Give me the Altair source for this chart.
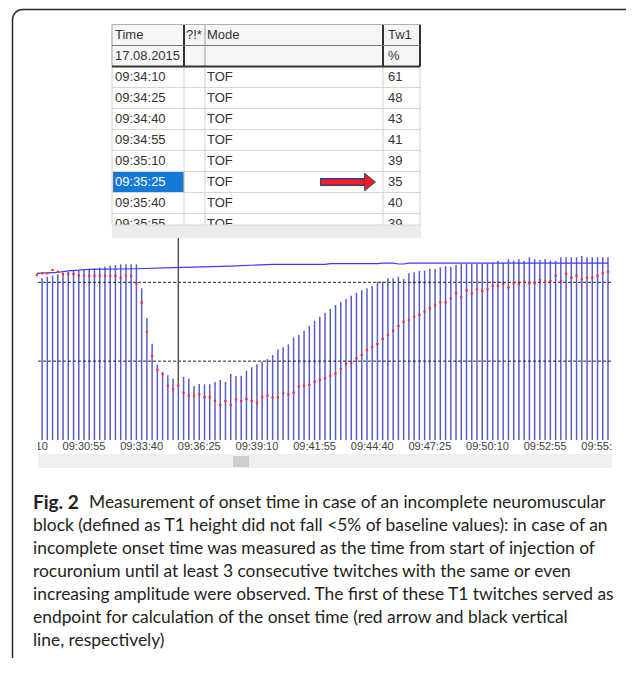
import altair as alt
import pandas as pd


def secs(hms):
    h, m, s = (int(p) for p in hms.split(":"))
    return h * 3600 + m * 60 + s


# ---------------- table (list view of the monitor) ----------------
table_header = ["Time", "?!*", "Mode", "Tw1"]
table_subheader = ["17.08.2015", "", "", "%"]
table_times = ["09:34:10", "09:34:25", "09:34:40", "09:34:55",
               "09:35:10", "09:35:25", "09:35:40", "09:35:55"]
table_modes = ["TOF", "TOF", "TOF", "TOF", "TOF", "TOF", "TOF", "TOF"]
table_tw1 = [61, 48, 43, 41, 39, 35, 40, 39]
onset_time = "09:35:25"
onset_value = 35

# ---------------- trend chart ----------------
axis_labels = ["09:28:10", "09:30:55", "09:33:40", "09:36:25", "09:39:10", "09:41:55",
               "09:44:40", "09:47:25", "09:50:10", "09:52:55", "09:55:40"]
sample_step_s = 15
bar_first_time = "09:28:55"
# T1 twitch height (%), one bar every 15 s
t1_bars = [
    102.6, 103.6, 104.2, 105.1, 106.1, 106.7, 107.2, 107.4, 107.8, 108.4,
    108.9, 109.3, 109.9, 110.5, 111.0, 111.4, 111.4, 111.4, 111.4, 96.2,
    77.2, 61.0, 48.0, 43.0, 41.0, 39.0, 35.0, 40.0, 39.0, 34.2,
    35.5, 35.3, 35.3, 36.8, 38.0, 36.8, 41.9, 40.6, 40.8, 43.9,
    46.1, 48.0, 49.7, 51.4, 53.9, 57.5, 58.8, 60.7, 65.1, 66.6,
    69.3, 72.3, 75.5, 78.2, 80.7, 83.1, 85.6, 87.7, 89.4, 91.5,
    93.4, 95.1, 96.2, 97.7, 100.4, 100.4, 102.5, 102.5, 103.6, 102.1,
    105.7, 106.3, 107.2, 107.4, 108.4, 108.4, 109.5, 110.3, 109.9, 111.0,
    111.6, 111.6, 111.6, 111.6, 111.6, 112.0, 112.4, 113.5, 112.4, 114.6,
    113.7, 114.6, 113.5, 115.9, 114.6, 114.1, 114.8, 113.7, 113.5, 115.9,
    115.9, 115.9, 115.9, 116.7, 115.9, 115.9, 115.9, 115.9, 115.9,
]
dot_first_time = "09:28:40"
# TOF ratio (%), red dots
tof_dots = [
    104.6, 105.7, 105.7, 107.8, 106.7, 105.3, 105.3, 105.3, 104.2, 104.2,
    104.2, 104.2, 104.2, 104.2, 104.2, 104.2, 102.9, 104.2, 104.2, 99.4,
    87.1, 68.7, 53.3, 44.4, 41.9, 34.4, 32.1, 34.4, 30.0, 28.1,
    28.1, 29.0, 27.1, 27.1, 24.7, 22.2, 24.7, 22.2, 25.8, 24.7,
    26.0, 24.7, 23.7, 27.1, 28.1, 27.1, 27.1, 29.6, 29.0, 30.0,
    33.8, 34.4, 35.0, 37.0, 38.0, 39.1, 40.6, 41.9, 45.0, 48.2,
    49.0, 51.8, 53.9, 57.1, 58.8, 60.9, 64.0, 66.6, 69.3, 72.3,
    75.0, 76.1, 78.2, 79.3, 81.4, 83.5, 85.4, 87.3, 87.3, 89.8,
    93.0, 90.5, 94.7, 93.0, 95.5, 94.5, 95.5, 97.8, 97.8, 98.9,
    96.8, 99.4, 98.9, 100.4, 99.4, 99.4, 101.5, 100.4, 100.8, 104.2,
    100.8, 105.3, 102.9, 104.2, 101.9, 102.9, 102.9, 104.2, 105.7, 106.7,
]
# blue reference trace
ref_times = ["09:28:40", "09:29:40", "09:30:10", "09:31:10", "09:33:25", "09:35:10",
             "09:37:55", "09:39:55", "09:42:25", "09:42:40", "09:44:55", "09:45:10",
             "09:45:40", "09:45:55", "09:46:10", "09:46:25", "09:55:55"]
ref_values = [105.7, 106.3, 107.2, 108.2, 108.6, 109.3, 110.3, 111.4, 111.4, 111.8,
              111.8, 112.2, 112.2, 111.6, 111.6, 112.2, 112.2]
reference_levels = [50, 100]

# ---------------- caption ----------------
caption_bold = "Fig. 2"
caption_first = "Measurement of onset time in case of an incomplete neuromuscular"
caption_lines = [
    "block (defined as T1 height did not fall <5% of baseline values): in case of an",
    "incomplete onset time was measured as the time from start of injection of",
    "rocuronium until at least 3 consecutive twitches with the same or even",
    "increasing amplitude were observed. The first of these T1 twitches served as",
    "endpoint for calculation of the onset time (red arrow and black vertical",
    "line, respectively)",
]

# ================= build data frames =================
b0 = secs(bar_first_time)
bars_df = pd.DataFrame({"t": [b0 + sample_step_s * i for i in range(len(t1_bars))],
                        "v": t1_bars, "base": 0})
d0 = secs(dot_first_time)
dots_df = pd.DataFrame({"t": [d0 + sample_step_s * i for i in range(len(tof_dots))],
                        "v": tof_dots})
ref_df = pd.DataFrame({"t": [secs(s) for s in ref_times], "v": ref_values})
lvl_df = pd.DataFrame({"v": reference_levels})
onset_df = pd.DataFrame({"t": [secs(onset_time)], "v": [onset_value]})
lab_df = pd.DataFrame({"t": [secs(s) for s in axis_labels], "label": axis_labels})

W, H = 618, 650
xs = alt.Scale(domain=[34120, 35770], range=[28.84, 605.24], nice=False, zero=False)
ys = alt.Scale(domain=[0, 120], range=[432, 242.76], nice=False, zero=False)
rs = alt.Scale(domain=[-2, 7], range=[27, 216], nice=False, zero=False)
cs = alt.Scale(domain=[0, 6], range=[495, 633], nice=False, zero=False)

one = pd.DataFrame({"_": [0]})
FONT = "Liberation Sans"


def rect(x, x2, y, y2, fill, stroke=None, sw=0, dash=None):
    kw = dict(fill=fill)
    if stroke:
        kw.update(stroke=stroke, strokeWidth=sw)
    if dash:
        kw.update(strokeDash=dash)
    return alt.Chart(one).mark_rect(**kw).encode(
        x=alt.value(x), x2=alt.value(x2), y=alt.value(y), y2=alt.value(y2))


def rule(x, x2, y, y2, color, w):
    return alt.Chart(one).mark_rule(color=color, strokeWidth=w).encode(
        x=alt.value(x), x2=alt.value(x2), y=alt.value(y), y2=alt.value(y2))


layers = []

# ---------- table ----------
TL, TR = 104, 412
layers.append(rect(TL, TR, 16.5, 58.5, "#f6f6f6"))
layers.append(rect(TL, TR, 58.5, 217, "#ffffff"))
hl_row = table_times.index(onset_time)
# highlighted cell
row_df = pd.DataFrame({"r": [hl_row - 0.5], "r2": [hl_row + 0.5]})
layers.append(alt.Chart(row_df).mark_rect(fill="#1479d6", stroke="#d9822b", strokeWidth=1,
                                          strokeDash=[1, 1]).encode(
    x=alt.value(105), x2=alt.value(176),
    y=alt.Y("r:Q", scale=rs, axis=None), y2="r2:Q"))
# horizontal grid lines
grid_df = pd.DataFrame({"b": [i + 0.5 for i in range(0, 7)]})
layers.append(alt.Chart(grid_df).mark_rule(color="#d6d6d6", strokeWidth=1).encode(
    y=alt.Y("b:Q", scale=rs, axis=None), x=alt.value(TL), x2=alt.value(TR)))
# vertical separators (data part light, header part dark)
for xv in [104, 176, 197, 375, 412]:
    layers.append(rule(xv, xv, 58.5, 217, "#d0d0d0", 1))
for xv, c, w in [(104, "#9a9a9a", 1), (176, "#333333", 2), (197, "#9a9a9a", 1),
                 (375, "#333333", 2), (412, "#333333", 2)]:
    layers.append(rule(xv, xv, 16.5, 58.5, c, w))
layers.append(rule(TL, TR, 16.5, 16.5, "#b0b0b0", 1))
layers.append(rule(TL, TR, 37.5, 37.5, "#7a7a7a", 1))
layers.append(rule(TL, TR, 58.5, 58.5, "#333333", 2))

# table texts
time_col = pd.DataFrame({"r": [-2, -1] + list(range(len(table_times))),
                         "text": [table_header[0], table_subheader[0]] + table_times,
                         "c": ["#333333"] * 2 + ["#ffffff" if s == onset_time else "#333333"
                                                 for s in table_times]})
flag_col = pd.DataFrame({"r": [-2], "text": [table_header[1]], "c": ["#333333"]})
mode_col = pd.DataFrame({"r": [-2] + list(range(len(table_modes))),
                         "text": [table_header[2]] + table_modes, "c": "#333333"})
tw1_col = pd.DataFrame({"r": [-2, -1] + list(range(len(table_tw1))),
                        "text": [table_header[3], table_subheader[3]] + [str(v) for v in table_tw1],
                        "c": "#333333"})
for df, xv in [(time_col, 107), (flag_col, 178), (mode_col, 199), (tw1_col, 380)]:
    layers.append(alt.Chart(df).mark_text(font=FONT, fontSize=13, align="left",
                                          baseline="middle").encode(
        x=alt.value(xv), y=alt.Y("r:Q", scale=rs, axis=None),
        text="text:N", color=alt.Color("c:N", scale=None)))

# red arrow pointing at the onset value
arrow_df = pd.DataFrame({"r": [hl_row]})
layers.append(alt.Chart(arrow_df).mark_rule(color="#2b3f8a", strokeWidth=8).encode(
    y=alt.Y("r:Q", scale=rs, axis=None), x=alt.value(312), x2=alt.value(358)))
layers.append(alt.Chart(arrow_df).mark_rule(color="#ff1a1a", strokeWidth=5).encode(
    y=alt.Y("r:Q", scale=rs, axis=None), x=alt.value(313), x2=alt.value(358)))
layers.append(alt.Chart(arrow_df).mark_point(
    shape="M-0.62,-1L0.62,0L-0.62,1Z", size=300, filled=True, fill="#ff1a1a",
    stroke="#2b3f8a", strokeWidth=1, opacity=1).encode(
    y=alt.Y("r:Q", scale=rs, axis=None), x=alt.value(362)))

# bottom strip of the table (covers last row partially)
layers.append(rect(TL, TR + 1, 217, 230, "#ececec"))
layers.append(rule(TL, TR + 1, 217, 217, "#d8d8d8", 1))

# ---------- trend chart ----------
layers.append(alt.Chart(bars_df).mark_rule(color="#5a5dc8", strokeWidth=1.5).encode(
    x=alt.X("t:Q", scale=xs, axis=None), y=alt.Y("v:Q", scale=ys, axis=None), y2="base:Q"))
layers.append(alt.Chart(lvl_df).mark_rule(color="#222222", strokeWidth=1, strokeDash=[3, 2]).encode(
    y=alt.Y("v:Q", scale=ys, axis=None), x=alt.value(30), x2=alt.value(604)))
layers.append(alt.Chart(ref_df).mark_line(color="#3c3cff", strokeWidth=1.2).encode(
    x=alt.X("t:Q", scale=xs, axis=None), y=alt.Y("v:Q", scale=ys, axis=None)))
layers.append(alt.Chart(onset_df).mark_rule(color="#555555", strokeWidth=1.5).encode(
    x=alt.X("t:Q", scale=xs, axis=None), y=alt.Y("v:Q", scale=ys, axis=None),
    y2=alt.value(230)))
layers.append(alt.Chart(dots_df).mark_square(color="#ff2b2b", size=5, opacity=1).encode(
    x=alt.X("t:Q", scale=xs, axis=None), y=alt.Y("v:Q", scale=ys, axis=None)))
layers.append(alt.Chart(lab_df).mark_text(font=FONT, fontSize=11, color="#404040",
                                          baseline="middle").encode(
    x=alt.X("t:Q", scale=xs, axis=None), y=alt.value(439), text="label:N"))
# clip the axis label strip at the plot edges
layers.append(rect(0, 30, 432.5, 447, "#ffffff"))
layers.append(rect(604, W, 432.5, 447, "#ffffff"))
# scroll bar under the time axis
layers.append(rect(30, 604, 446, 460, "#efefef"))
layers.append(rect(225, 241, 448, 459, "#cdcdcd"))

# ---------- caption ----------
CF = "Lato"
CFS = 17.4
cap0 = pd.DataFrame({"i": [0], "text": [caption_bold]})
layers.append(alt.Chart(cap0).mark_text(font=CF, fontSize=19, fontWeight="bold", align="left",
                                        baseline="middle", color="#231f20").encode(
    x=alt.value(25), y=alt.Y("i:Q", scale=cs, axis=None), text="text:N"))
cap1 = pd.DataFrame({"i": [0], "text": [caption_first]})
layers.append(alt.Chart(cap1).mark_text(font=CF, fontSize=CFS, align="left",
                                        baseline="middle", color="#231f20").encode(
    x=alt.value(81), y=alt.Y("i:Q", scale=cs, axis=None), text="text:N"))
cap_df = pd.DataFrame({"i": list(range(1, len(caption_lines) + 1)), "text": caption_lines})
layers.append(alt.Chart(cap_df).mark_text(font=CF, fontSize=CFS, align="left",
                                          baseline="middle", color="#231f20").encode(
    x=alt.value(25), y=alt.Y("i:Q", scale=cs, axis=None), text="text:N"))

# ---------- frame ----------
layers.append(alt.Chart(one).mark_rect(fillOpacity=0, stroke="#2a2a2a", strokeWidth=1.5,
                                       cornerRadius=10).encode(
    x=alt.value(4.5), x2=alt.value(W + 40), y=alt.value(1.5), y2=alt.value(H + 40)))

chart = alt.layer(*layers).resolve_scale(x="independent", y="independent").properties(
    width=W, height=H, padding=0, background="white",
    autosize=alt.AutoSizeParams(type="none"),
).configure_view(strokeWidth=0)

chart.save("out.html", embed_options={"renderer": "svg", "actions": False})
